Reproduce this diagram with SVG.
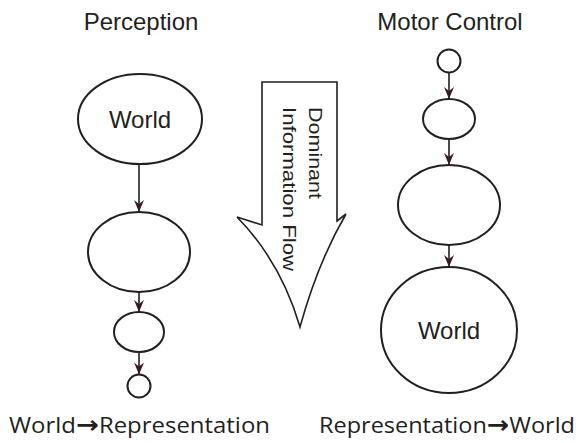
<svg xmlns="http://www.w3.org/2000/svg" width="581" height="443" viewBox="0 0 581 443">
<style>
.node{fill:#fff;stroke:#231f20;stroke-width:2}
.lbl{font-family:"Liberation Sans",Arial,sans-serif;font-size:24px;fill:#231f20;text-anchor:middle}
.edge{stroke:#231f20;stroke-width:1.6;fill:none}
.foot{font-family:"Open Sans","Noto Sans",sans-serif;font-size:21px;fill:#231f20}
.arr{font-family:"DejaVu Sans",sans-serif;font-size:24px;font-weight:bold;fill:#231f20}
.flow{font-family:"Liberation Sans",Arial,sans-serif;font-size:19px;fill:#231f20}
</style>
<defs>
<marker id="ah" viewBox="0 0 12 12" refX="12" refY="6" markerWidth="12" markerHeight="12" markerUnits="userSpaceOnUse" orient="auto">
<path d="M0,1 L12,6 L0,11 L4,6 Z" fill="#3a1c1e"/>
</marker>
</defs>
<text class="lbl" x="141" y="30">Perception</text>
<text class="lbl" x="450" y="30">Motor Control</text>
<g id="p-world"><ellipse class="node" cx="140" cy="119" rx="62" ry="45"/><text class="lbl" x="140" y="128">World</text></g>
<g id="p-rep1"><ellipse class="node" cx="139" cy="252" rx="51" ry="40"/></g>
<g id="p-rep2"><ellipse class="node" cx="139" cy="332" rx="25" ry="20"/></g>
<g id="p-rep3"><circle class="node" cx="139" cy="386" r="11.5"/></g>
<g id="m-rep3"><circle class="node" cx="449" cy="61" r="11.5"/></g>
<g id="m-rep2"><ellipse class="node" cx="449" cy="119" rx="26" ry="20"/></g>
<g id="m-rep1"><ellipse class="node" cx="449" cy="205" rx="51" ry="40"/></g>
<g id="m-world"><ellipse class="node" cx="449" cy="330" rx="68" ry="63"/><text class="lbl" x="449" y="339">World</text></g>
<g id="connectors">
<line class="edge" x1="139" y1="164" x2="139" y2="212" marker-end="url(#ah)"/>
<line class="edge" x1="139" y1="292" x2="139" y2="312" marker-end="url(#ah)"/>
<line class="edge" x1="139" y1="352" x2="139" y2="374.5" marker-end="url(#ah)"/>
<line class="edge" x1="449" y1="72.5" x2="449" y2="99" marker-end="url(#ah)"/>
<line class="edge" x1="449" y1="139" x2="449" y2="165" marker-end="url(#ah)"/>
<line class="edge" x1="449" y1="245" x2="449" y2="267" marker-end="url(#ah)"/>
</g>
<g id="flow-arrow">
<path d="M262,82 L337,82 L337,221 L346,214 Q318,262 300,327 Q281,262 237,217 L262,225 Z" fill="#fff" stroke="#231f20" stroke-width="1.6" stroke-linejoin="miter"/>
<text class="flow" transform="translate(309,107) rotate(90)" textLength="92" lengthAdjust="spacingAndGlyphs">Dominant</text>
<text class="flow" transform="translate(283,107) rotate(90)" textLength="164" lengthAdjust="spacingAndGlyphs">Information Flow</text>
</g>
<text class="foot" x="9" y="433" textLength="261" lengthAdjust="spacingAndGlyphs">World<tspan class="arr">→</tspan>Representation</text>
<text class="foot" x="319" y="433" textLength="256" lengthAdjust="spacingAndGlyphs">Representation<tspan class="arr">→</tspan>World</text>
</svg>
